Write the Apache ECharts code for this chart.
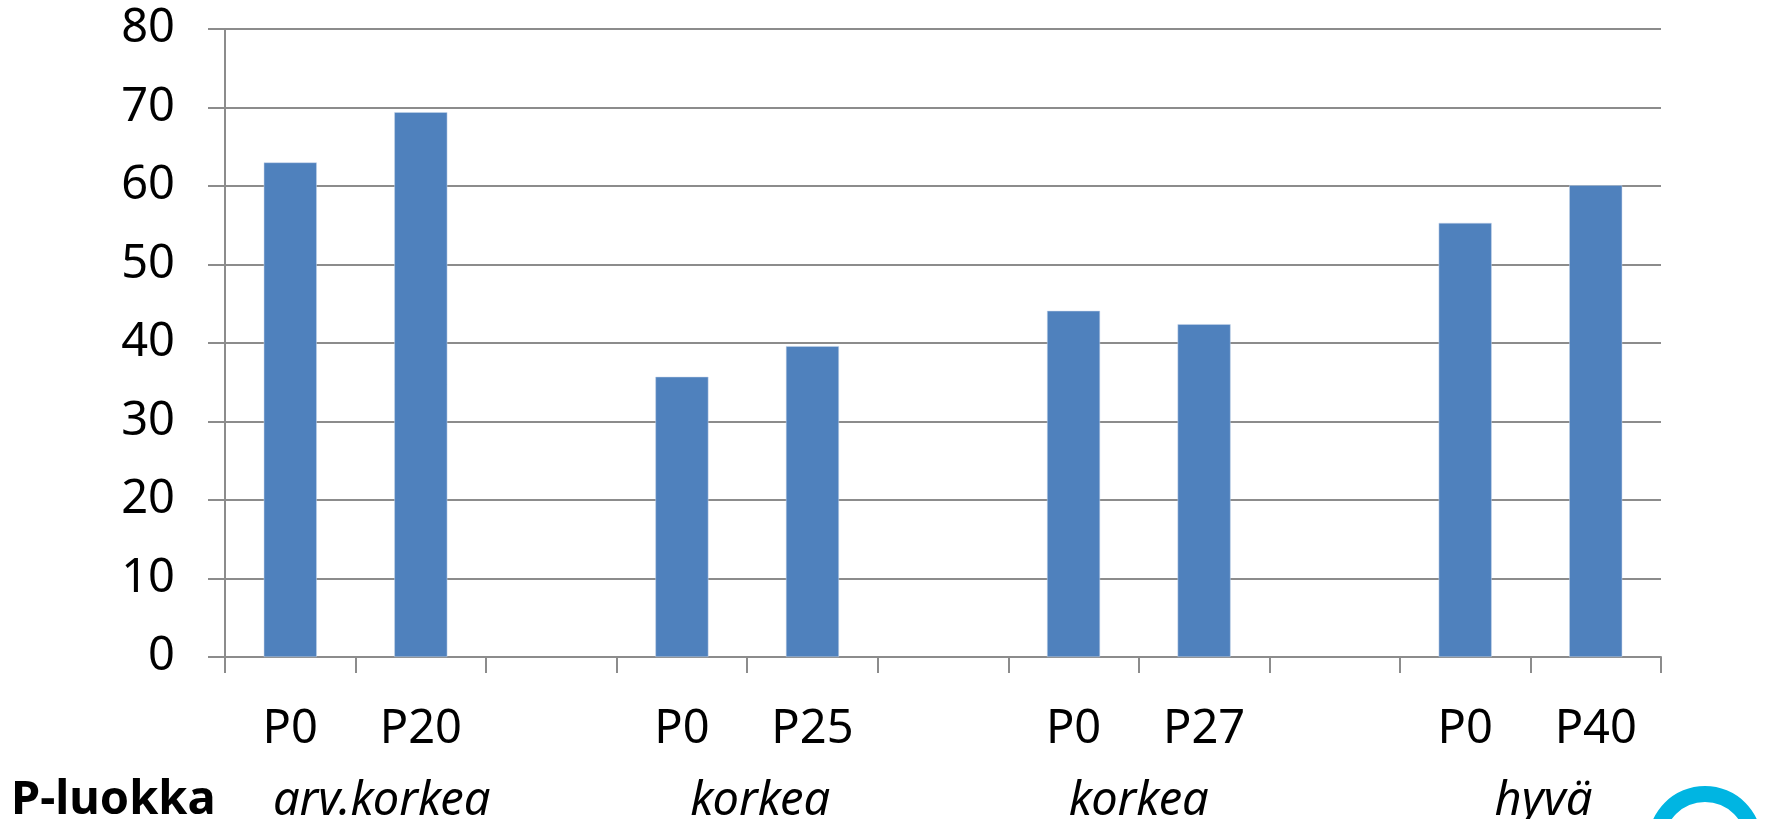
<!DOCTYPE html>
<html>
<head>
<meta charset="utf-8">
<script src="https://cdn.jsdelivr.net/npm/echarts@6/dist/echarts.min.js"></script>
<style>
html,body{margin:0;padding:0;background:#fff;}
#chart{width:1765px;height:819px;}
</style>
</head>
<body>
<div id="chart"></div>
<script>
const categories = ['P0','P20','','P0','P25','','P0','P27','','P0','P40'];
const values = [63.0, 69.4, null, 35.7, 39.6, null, 44.1, 42.4, null, 55.3, 60.1];
const groupNames = ['arv.korkea', 'korkea', 'korkea', 'hyvä'];
const groupCenters = [1.2, 4.1, 7.0, 10.1]; // in category units along the axis
const yTicks = {min: 0, max: 80, interval: 10};
const levelTitle = 'P-luokka';

// Build a fine-grained (tenth of a category) label axis for the group row
const STEPS = categories.length * 10;
const groupLabels = new Array(STEPS + 1).fill('');
groupNames.forEach((n, i) => { groupLabels[Math.round(groupCenters[i] * 10)] = n; });

const FONT = '"Noto Sans", "DejaVu Sans", sans-serif';
const GRAY = '#8c8c8c';

const chart = echarts.init(document.getElementById('chart'), null, {renderer: 'canvas'});
chart.setOption({
  animation: false,
  backgroundColor: '#ffffff',
  title: {
    text: levelTitle,
    left: 11,
    top: 776,
    padding: 0,
    textStyle: {fontFamily: FONT, fontSize: 47, fontWeight: 'bold', color: '#000', lineHeight: 50}
  },
  grid: {left: 225, right: 104, top: 29, bottom: 162, containLabel: false, outerBoundsMode: 'none'},
  xAxis: [
    {
      type: 'category',
      data: categories,
      boundaryGap: true,
      axisLine: {show: true, lineStyle: {color: GRAY, width: 2}},
      axisTick: {show: true, length: 16, interval: 0, lineStyle: {color: GRAY, width: 2}},
      axisLabel: {interval: 0, margin: 48, fontFamily: FONT, fontSize: 47, color: '#000', lineHeight: 50},
      splitLine: {show: false}
    },
    {
      type: 'category',
      position: 'bottom',
      data: groupLabels,
      boundaryGap: false,
      axisLine: {show: false},
      axisTick: {show: false},
      axisLabel: {interval: 0, margin: 120, fontFamily: FONT, fontSize: 47, fontStyle: 'italic', color: '#000', lineHeight: 50},
      splitLine: {show: false}
    }
  ],
  yAxis: {
    type: 'value',
    min: yTicks.min,
    max: yTicks.max,
    interval: yTicks.interval,
    axisLine: {show: true, lineStyle: {color: GRAY, width: 2}},
    axisTick: {show: true, length: 17, lineStyle: {color: GRAY, width: 2}},
    axisLabel: {margin: 50, fontFamily: FONT, fontSize: 47, color: '#000'},
    splitLine: {show: true, lineStyle: {color: GRAY, width: 2}}
  },
  series: [{
    type: 'bar',
    xAxisIndex: 0,
    data: values,
    barWidth: 53,
    itemStyle: {color: '#4f81bd', borderColor: '#c9d6ea', borderWidth: 0.5}
  }],
  graphic: [{
    type: 'ring',
    shape: {cx: 1705, cy: 843, r: 57, r0: 41},
    style: {fill: '#00b5e2'},
    silent: true
  }]
});
</script>
</body>
</html>
